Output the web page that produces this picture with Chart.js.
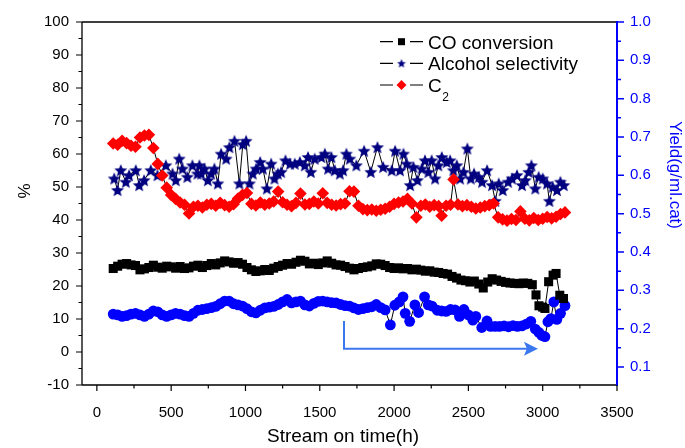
<!DOCTYPE html>
<html>
<head>
<meta charset="utf-8">
<script src="https://cdn.jsdelivr.net/npm/chart.js@4.4.1/dist/chart.umd.min.js"></script>
<style>
  html, body { margin: 0; padding: 0; background: #fff; }
  #wrap { width: 685px; height: 448px; }
</style>
</head>
<body>
<div id="wrap"><canvas id="chart" width="685" height="448"></canvas></div>
<script>
const FONT = '"Liberation Sans", Arial, Helvetica, sans-serif';

/* ---------- tick labels ---------- */
const xTicks = [0, 500, 1000, 1500, 2000, 2500, 3000, 3500];
const leftTicks = [-10, 0, 10, 20, 30, 40, 50, 60, 70, 80, 90, 100];
const rightTicks = [0.1, 0.2, 0.3, 0.4, 0.5, 0.6, 0.7, 0.8, 0.9, 1.0];

/* ---------- CO conversion (%) ---------- */
const coHours = [110, 140, 170, 200, 230, 260, 290, 320, 350, 380,
  410, 440, 470, 500, 530, 560, 590, 620, 650, 680,
  710, 740, 770, 800, 830, 860, 890, 920, 950, 980,
  1010, 1040, 1070, 1100, 1130, 1160, 1190, 1220, 1250, 1280,
  1310, 1340, 1370, 1400, 1430, 1460, 1490, 1520, 1550, 1580,
  1610, 1640, 1670, 1700, 1730, 1760, 1790, 1820, 1850, 1880,
  1910, 1940, 1970, 2000, 2030, 2060, 2090, 2120, 2150, 2180,
  2210, 2240, 2270, 2300, 2330, 2360, 2390, 2420, 2450, 2480,
  2510, 2540, 2570, 2600, 2630, 2660, 2690, 2720, 2750, 2780,
  2810, 2840, 2870, 2900, 2930, 2955, 2975, 3000, 3015, 3040,
  3070, 3090, 3115, 3140];
const coValues = [25.3, 26.0, 26.6, 26.8, 26.4, 26.2, 24.9, 25.2, 25.6, 26.3,
  25.7, 25.4, 26.0, 25.8, 25.4, 25.9, 25.3, 25.5, 26.0, 26.3,
  25.6, 26.2, 26.8, 26.4, 27.0, 27.6, 27.3, 26.9, 27.1, 26.6,
  25.6, 24.9, 24.4, 24.6, 25.0, 24.7, 25.4, 25.9, 26.3, 26.8,
  26.6, 27.2, 27.8, 27.5, 26.7, 26.9, 26.5, 27.0, 27.6, 26.9,
  26.4, 26.3, 25.9, 25.4, 24.9, 25.3, 25.6, 25.8, 26.1, 26.7,
  26.6, 26.2, 25.6, 25.3, 25.5, 25.2, 25.3, 24.9, 25.1, 24.8,
  24.5, 24.6, 24.2, 24.1, 23.8, 23.6, 22.9, 22.4, 21.8, 21.6,
  21.2, 21.5, 20.6, 19.4, 21.2, 22.2, 21.8, 21.4, 21.1, 20.9,
  20.8, 20.7, 20.9, 20.8, 20.4, 17.3, 14.0, 13.6, 13.2, 21.3,
  23.3, 23.8, 17.2, 16.2];

/* ---------- Alcohol selectivity (%) ---------- */
const alcHours = [117, 139, 161, 195, 217, 262, 285, 318, 363, 408,
  464, 509, 531, 554, 576, 609, 643, 677, 690, 702,
  724, 747, 769, 791, 814, 836, 870, 892, 926, 959,
  982, 1004, 1027, 1049, 1072, 1099, 1117, 1144, 1173, 1195,
  1218, 1240, 1269, 1300, 1332, 1366, 1399, 1421, 1440, 1466,
  1511, 1534, 1556, 1578, 1601, 1635, 1657, 1679, 1702, 1746,
  1798, 1843, 1888, 1926, 1984, 2007, 2040, 2063, 2085, 2108,
  2130, 2157, 2186, 2208, 2231, 2253, 2276, 2298, 2321, 2354,
  2377, 2399, 2422, 2444, 2467, 2493, 2516, 2538, 2570, 2592,
  2626, 2659, 2681, 2704, 2731, 2767, 2794, 2827, 2861, 2883,
  2906, 2924, 2950, 2973, 3000, 3029, 3045, 3067, 3096, 3119,
  3142];
const alcValues = [52.6, 49.1, 55.1, 51.6, 53.6, 55.1, 50.6, 52.1, 55.1, 53.6,
  56.6, 54.1, 52.1, 58.6, 55.6, 53.1, 56.6, 54.1, 56.6, 54.1,
  55.6, 52.1, 54.1, 55.6, 51.1, 60.1, 58.6, 62.1, 64.0, 51.1,
  63.0, 64.0, 51.1, 54.1, 55.6, 57.6, 55.6, 49.6, 57.1, 52.6,
  54.1, 54.6, 58.1, 57.1, 57.1, 57.6, 56.6, 59.1, 54.6, 58.6,
  59.1, 60.1, 55.6, 59.1, 55.1, 54.1, 55.1, 60.1, 58.6, 56.6,
  61.0, 54.6, 62.1, 56.1, 55.1, 61.0, 55.1, 60.1, 57.1, 50.6,
  56.1, 52.1, 55.6, 58.1, 54.6, 58.1, 52.6, 56.6, 59.1, 57.6,
  58.1, 55.1, 56.6, 52.6, 54.6, 61.7, 52.6, 54.1, 53.1, 51.6,
  55.1, 50.6, 45.8, 51.1, 49.1, 51.6, 52.6, 53.6, 50.6, 52.1,
  54.6, 56.6, 49.6, 53.1, 52.6, 51.1, 45.8, 50.1, 49.1, 51.6,
  50.6];

/* ---------- C2 (%) ---------- */
const c2Hours = [110, 140, 170, 200, 230, 260, 290, 320, 350, 380,
  410, 440, 470, 500, 530, 560, 590, 620, 650, 680,
  710, 740, 770, 800, 830, 860, 890, 920, 950, 980,
  1010, 1040, 1070, 1100, 1130, 1160, 1190, 1220, 1250, 1280,
  1310, 1340, 1370, 1400, 1430, 1460, 1490, 1520, 1550, 1580,
  1610, 1640, 1670, 1700, 1730, 1760, 1790, 1820, 1850, 1880,
  1910, 1940, 1970, 2000, 2030, 2060, 2090, 2120, 2150, 2180,
  2210, 2240, 2270, 2300, 2320, 2350, 2380, 2400, 2430, 2460,
  2490, 2520, 2550, 2580, 2610, 2640, 2670, 2700, 2730, 2760,
  2790, 2820, 2850, 2880, 2910, 2940, 2970, 3000, 3030, 3060,
  3090, 3120, 3150];
const c2Values = [63.2, 62.8, 64.0, 63.3, 62.5, 62.2, 65.0, 65.6, 65.8, 61.8,
  57.0, 53.5, 49.8, 47.6, 46.4, 45.3, 44.6, 42.0, 44.0, 44.3,
  43.8, 44.6, 44.9, 44.3, 45.2, 44.5, 44.0, 44.8, 46.5, 47.6,
  48.2, 44.9, 44.4, 45.3, 44.6, 45.0, 45.6, 48.6, 45.4, 44.6,
  44.2, 45.2, 48.0, 44.7, 44.9, 45.6, 45.0, 48.1, 45.2, 44.6,
  44.4, 44.8, 45.0, 48.7, 48.6, 44.3, 43.3, 43.0, 43.2, 42.8,
  43.1, 43.4, 44.0, 44.9, 45.3, 45.6, 46.4, 45.0, 40.8, 44.3,
  44.7, 44.0, 44.5, 44.2, 41.3, 44.3, 44.6, 52.3, 44.7, 44.2,
  44.5, 44.0, 43.5, 43.8, 44.2, 44.5, 45.0, 40.8, 40.2, 39.8,
  40.3, 40.0, 42.6, 40.4, 39.9, 40.6, 40.0, 40.4, 40.9, 40.5,
  41.0, 41.8, 42.3];

/* ---------- Yield (g/ml.cat), right axis ---------- */
const yieldHours = [110, 140, 170, 200, 230, 260, 290, 320, 350, 380,
  410, 440, 470, 500, 530, 560, 590, 620, 650, 680,
  710, 740, 770, 800, 830, 860, 890, 920, 950, 980,
  1010, 1040, 1070, 1100, 1130, 1160, 1190, 1220, 1250, 1280,
  1310, 1340, 1370, 1400, 1430, 1460, 1490, 1520, 1550, 1580,
  1610, 1640, 1670, 1700, 1730, 1760, 1790, 1820, 1850, 1880,
  1910, 1940, 1975, 2005, 2035, 2060, 2075, 2105, 2140, 2165,
  2205, 2230, 2255, 2290, 2320, 2350, 2380, 2410, 2440, 2470,
  2500, 2530, 2550, 2590, 2625, 2650, 2680, 2710, 2740, 2770,
  2800, 2830, 2860, 2890, 2920, 2950, 2975, 2995, 3015, 3035,
  3055, 3075, 3095, 3120, 3150];
const yieldValues = [0.238, 0.236, 0.232, 0.234, 0.238, 0.240, 0.236, 0.232, 0.238, 0.246,
  0.244, 0.236, 0.232, 0.236, 0.240, 0.238, 0.234, 0.232, 0.240, 0.248,
  0.250, 0.252, 0.255, 0.258, 0.265, 0.272, 0.272, 0.265, 0.262, 0.259,
  0.252, 0.244, 0.241, 0.248, 0.254, 0.256, 0.258, 0.263, 0.270, 0.276,
  0.267, 0.270, 0.272, 0.262, 0.259, 0.266, 0.271, 0.272, 0.270, 0.268,
  0.267, 0.263, 0.260, 0.259, 0.254, 0.250, 0.252, 0.255, 0.257, 0.263,
  0.255, 0.249, 0.210, 0.261, 0.270, 0.283, 0.240, 0.219, 0.262, 0.242,
  0.283, 0.262, 0.259, 0.248, 0.246, 0.245, 0.250, 0.249, 0.232, 0.250,
  0.236, 0.222, 0.232, 0.203, 0.220, 0.206, 0.206, 0.206, 0.207, 0.205,
  0.208, 0.206, 0.207, 0.212, 0.219, 0.199, 0.190, 0.182, 0.179, 0.218,
  0.226, 0.270, 0.224, 0.240, 0.260];

/* ---------- arrow annotation (hours, % on left axis) ---------- */
const arrowHours = [1663, 1663, 2968];
const arrowLevels = [9.4, 1.0, 1.0];

const toPoints = (hours, values) => hours.map((h, i) => ({ x: h, y: values[i] }));
const midpoints = (arr) => arr.slice(1).map((v, i) => (v + arr[i]) / 2);

/* filled five-point star used as a point style */
function makeStar(r, color) {
  const c = document.createElement("canvas");
  const s = Math.ceil(r * 2 + 2);
  c.width = c.height = s;
  const g = c.getContext("2d");
  g.fillStyle = color;
  g.beginPath();
  for (let i = 0; i < 10; i++) {
    const rr = i % 2 ? r * 0.45 : r;
    const ang = -Math.PI / 2 + (i * Math.PI) / 5;
    g.lineTo(s / 2 + rr * Math.cos(ang), s / 2 + rr * Math.sin(ang) + r * 0.1);
  }
  g.closePath();
  g.fill();
  return c;
}
const NAVY = "#000080";
const starBig = makeStar(6.8, NAVY);
const starSmall = makeStar(4.6, NAVY);

/* ---------- frame, ticks, titles, legend ---------- */
const decorations = {
  id: "decorations",
  beforeDatasetsDraw(chart) {
    const { ctx, scales } = chart;
    const pts = arrowHours.map((h, i) => [scales.x.getPixelForValue(h), scales.y.getPixelForValue(arrowLevels[i])]);
    ctx.save();
    ctx.strokeStyle = "#3b78f0";
    ctx.fillStyle = "#3b78f0";
    ctx.lineWidth = 2;
    ctx.beginPath();
    ctx.moveTo(pts[0][0], pts[0][1]);
    ctx.lineTo(pts[1][0], pts[1][1]);
    ctx.lineTo(pts[2][0] - 10, pts[2][1]);
    ctx.stroke();
    ctx.beginPath();
    ctx.moveTo(pts[2][0], pts[2][1]);
    ctx.lineTo(pts[2][0] - 14, pts[2][1] - 7);
    ctx.lineTo(pts[2][0] - 11, pts[2][1]);
    ctx.lineTo(pts[2][0] - 14, pts[2][1] + 7);
    ctx.closePath();
    ctx.fill();
    ctx.restore();
  },
  afterDraw(chart) {
    const { ctx, chartArea: a, scales } = chart;
    ctx.save();

    const tick = (color, width, lines) => {
      ctx.strokeStyle = color;
      ctx.lineWidth = width;
      ctx.beginPath();
      lines.forEach(([x1, y1, x2, y2]) => { ctx.moveTo(x1, y1); ctx.lineTo(x2, y2); });
      ctx.stroke();
    };

    // frame
    tick("#000", 1.3, [[a.left, a.top, a.right, a.top], [a.left, a.top, a.left, a.bottom], [a.left, a.bottom, a.right, a.bottom]]);
    tick("#0000ff", 2, [[a.right, a.top - 1, a.right, a.bottom + 1]]);

    // x ticks
    const xl = [];
    xTicks.forEach(v => { const p = scales.x.getPixelForValue(v); xl.push([p, a.bottom, p, a.bottom + 6]); });
    midpoints(xTicks).forEach(v => { const p = scales.x.getPixelForValue(v); xl.push([p, a.bottom, p, a.bottom + 3.5]); });
    tick("#000", 1.2, xl);

    // left ticks
    const yl = [];
    leftTicks.forEach(v => { const p = scales.y.getPixelForValue(v); yl.push([a.left, p, a.left - 6, p]); });
    midpoints(leftTicks).forEach(v => { const p = scales.y.getPixelForValue(v); yl.push([a.left, p, a.left - 3.5, p]); });
    tick("#000", 1.2, yl);

    // right ticks
    const rl = [];
    rightTicks.forEach(v => { const p = scales.y2.getPixelForValue(v); rl.push([a.right, p, a.right + 7, p]); });
    midpoints(rightTicks).forEach(v => { const p = scales.y2.getPixelForValue(v); rl.push([a.right, p, a.right + 4, p]); });
    tick("#0000ff", 1.5, rl);

    // axis titles
    ctx.fillStyle = "#000";
    ctx.textAlign = "center";
    ctx.textBaseline = "middle";
    ctx.font = `19px ${FONT}`;
    ctx.fillText("Stream on time(h)", 343, 437);
    ctx.font = `17px ${FONT}`;
    ctx.save();
    ctx.translate(25, 191);
    ctx.rotate(-Math.PI / 2);
    ctx.fillText("%", 0, 0);
    ctx.restore();
    ctx.fillStyle = "#0000ff";
    ctx.save();
    ctx.translate(675, 175);
    ctx.rotate(Math.PI / 2);
    ctx.fillText("Yield(g/ml.cat)", 0, 0);
    ctx.restore();

    // legend
    const rows = [
      { y: 41.7, text: "CO conversion", kind: "square" },
      { y: 63.3, text: "Alcohol selectivity", kind: "star" },
      { y: 85, text: "C", sub: "2", kind: "diamond" }
    ];
    const mx = 401.5;
    rows.forEach(r => {
      tick("#000", 1.2, [[380, r.y, 393, r.y], [410, r.y, 423, r.y]]);
      if (r.kind === "square") {
        ctx.fillStyle = "#000";
        ctx.fillRect(mx - 3.5, r.y - 3.5, 7, 7);
      } else if (r.kind === "star") {
        ctx.drawImage(starSmall, mx - starSmall.width / 2, r.y - starSmall.height / 2);
      } else {
        ctx.fillStyle = "#ff0000";
        ctx.beginPath();
        ctx.moveTo(mx - 5, r.y);
        ctx.lineTo(mx, r.y - 5);
        ctx.lineTo(mx + 5, r.y);
        ctx.lineTo(mx, r.y + 5);
        ctx.closePath();
        ctx.fill();
      }
      ctx.fillStyle = "#000";
      ctx.textAlign = "left";
      ctx.textBaseline = "alphabetic";
      ctx.font = `19px ${FONT}`;
      ctx.fillText(r.text, 428, r.y + 6.8);
      if (r.sub) {
        const w = ctx.measureText(r.text).width;
        ctx.font = `12px ${FONT}`;
        ctx.fillText(r.sub, 428 + w + 0.5, r.y + 15.5);
      }
    });

    ctx.restore();
  }
};

/* ---------- chart ---------- */
const lineStyle = { showLine: true, borderColor: "#000", borderWidth: 1, tension: 0, pointBorderWidth: 0 };

new Chart(document.getElementById("chart"), {
  type: "scatter",
  data: {
    datasets: [
      { ...lineStyle, label: "C2", data: toPoints(c2Hours, c2Values), yAxisID: "y",
        pointStyle: "rectRot", pointRadius: 6.3, pointBackgroundColor: "#ff0000", pointBorderColor: "#ff0000" },
      { ...lineStyle, label: "Alcohol selectivity", data: toPoints(alcHours, alcValues), yAxisID: "y",
        pointStyle: starBig, pointRadius: 6 },
      { ...lineStyle, label: "CO conversion", data: toPoints(coHours, coValues), yAxisID: "y",
        pointStyle: "rect", pointRadius: 6.4, pointBackgroundColor: "#000", pointBorderColor: "#000" },
      { ...lineStyle, label: "Yield", data: toPoints(yieldHours, yieldValues), yAxisID: "y2",
        pointStyle: "circle", pointRadius: 5.4, pointBackgroundColor: "#0000ff", pointBorderColor: "#0000ff" }
    ]
  },
  options: {
    responsive: false,
    animation: false,
    events: [],
    layout: { padding: { top: 16, left: 0, right: 0, bottom: 0 } },
    plugins: { legend: { display: false }, tooltip: { enabled: false } },
    scales: {
      x: {
        type: "linear", min: -100, max: 3500,
        grid: { display: false, drawTicks: false }, border: { display: false },
        afterBuildTicks: (s) => { s.ticks = xTicks.map(v => ({ value: v })); },
        afterFit: (s) => { s.height = 63; },
        ticks: { color: "#000", padding: 19, maxRotation: 0, autoSkip: false, font: { family: FONT, size: 15 },
          callback: (v) => String(v) }
      },
      y: {
        type: "linear", position: "left", min: -10, max: 100,
        grid: { display: false, drawTicks: false }, border: { display: false },
        afterBuildTicks: (s) => { s.ticks = leftTicks.map(v => ({ value: v })); },
        afterFit: (s) => { s.width = 82; },
        ticks: { color: "#000", padding: 13, font: { family: FONT, size: 15 }, callback: (v) => String(v) }
      },
      y2: {
        type: "linear", position: "right", min: 0.053, max: 1.0,
        grid: { display: false, drawTicks: false }, border: { display: false },
        afterBuildTicks: (s) => { s.ticks = rightTicks.map(v => ({ value: v })); },
        afterFit: (s) => { s.width = 68; },
        ticks: { color: "#0000ff", padding: 13, font: { family: FONT, size: 15 },
          callback: (v) => Number(v).toFixed(1) }
      }
    }
  },
  plugins: [decorations]
});
</script>
</body>
</html>
